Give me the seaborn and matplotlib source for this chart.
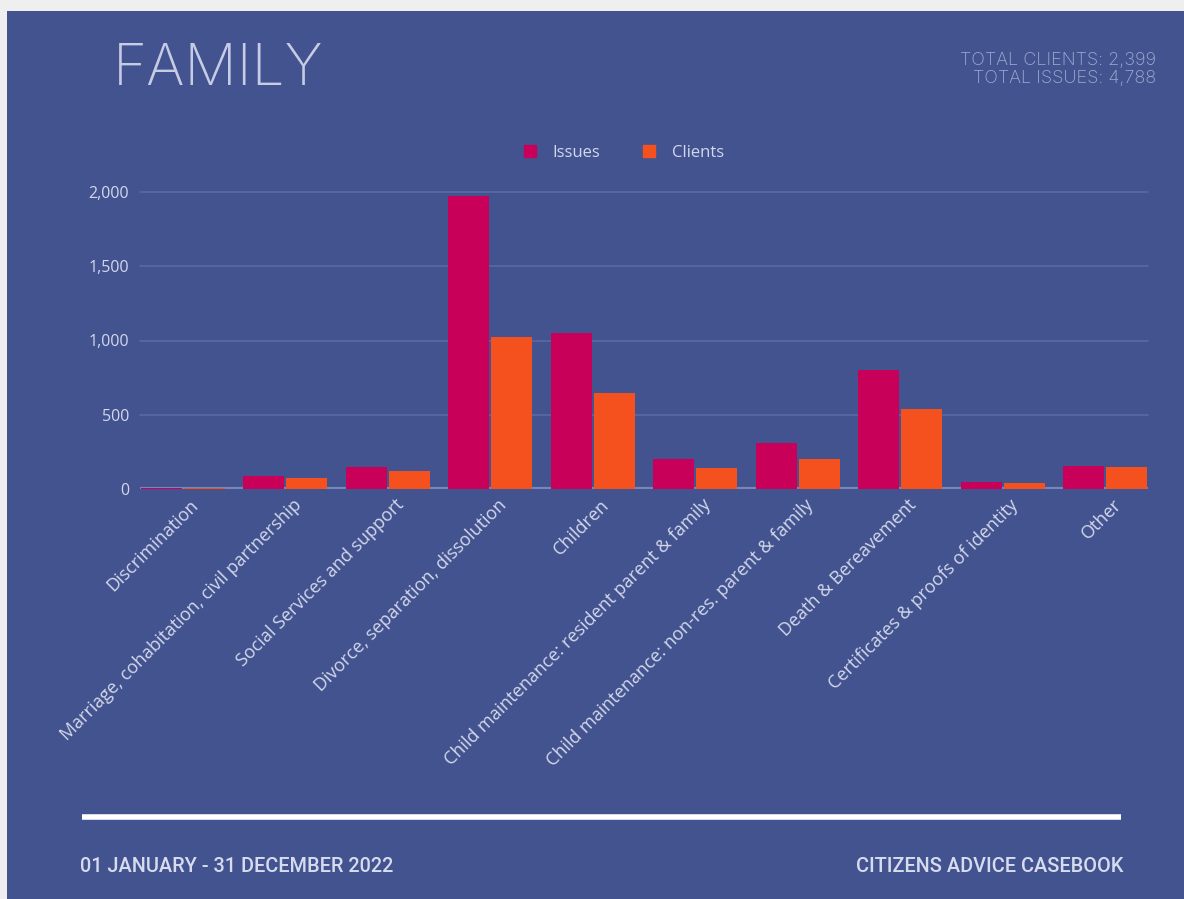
import matplotlib
matplotlib.use("Agg")
import matplotlib.pyplot as plt
import matplotlib.transforms as mtransforms
from matplotlib.patches import Rectangle
from matplotlib.lines import Line2D
import pandas as pd
import seaborn as sns

# Family advice topics, 01 Jan - 31 Dec 2022
categories = [
    "Discrimination",
    "Marriage, cohabitation, civil partnership",
    "Social Services and support",
    "Divorce, separation, dissolution",
    "Children",
    "Child maintenance: resident parent & family",
    "Child maintenance: non-res. parent & family",
    "Death & Bereavement",
    "Certificates & proofs of identity",
    "Other",
]
issues = [8, 88, 150, 1976, 1048, 200, 313, 801, 49, 155]
clients = [6, 76, 122, 1023, 649, 144, 200, 536, 43, 149]
series_names = ["Issues", "Clients"]
y_ticks = [0, 500, 1000, 1500, 2000]
y_tick_labels = ["0", "500", "1,000", "1,500", "2,000"]
total_clients = "2,399"
total_issues = "4,788"

W, H = 1184, 899
BG = "#43538F"
ISSUE_C = "#C8005A"
CLIENT_C = "#F4511E"
TEXT_C = "#D3D8EC"
SANS = ["Open Sans", "DejaVu Sans"]

df = pd.DataFrame({
    "category": categories * 2,
    "series": [series_names[0]] * len(categories) + [series_names[1]] * len(categories),
    "value": issues + clients,
})

sns.set_theme(style="white")
plt.rcParams["font.family"] = SANS

fig = plt.figure(figsize=(W / 100, H / 100), dpi=100, facecolor="#EFEFEF")

def fx(px):
    return px / W

def fy(py):
    return 1 - py / H

# blue card behind everything
fig.patches.append(Rectangle((fx(7), 0), 1 - fx(7), fy(11), transform=fig.transFigure,
                             facecolor=BG, edgecolor="none", zorder=-5))

ax = fig.add_axes([fx(140), fy(489), fx(1148) - fx(140), fy(192) - fy(489)])
ax.set_zorder(2)
ax.patch.set_alpha(0)

sns.barplot(data=df, x="category", y="value", hue="series", order=categories,
            hue_order=series_names, palette=[ISSUE_C, CLIENT_C], width=0.84,
            gap=0.04, saturation=1, linewidth=0, legend=False, ax=ax, zorder=3)

ax.set_xlim(-0.417, 9.417)
ax.set_ylim(0, 2000)
ax.set_yticks(y_ticks)
ax.set_yticklabels(y_tick_labels)
for y in y_ticks[1:]:
    ax.axhline(y, color="#5767A2", lw=1.3, zorder=1, clip_on=False)
ax.axhline(0, color="#7885BA", lw=3, zorder=2)

for s in ax.spines.values():
    s.set_visible(False)
ax.set_xlabel("")
ax.set_ylabel("")
ax.tick_params(axis="y", length=0, pad=8, labelsize=11.5, labelcolor=TEXT_C)
ax.tick_params(axis="x", length=0, pad=5, labelsize=13, labelcolor=TEXT_C)
ax.set_xticks(range(len(categories)))
ax.set_xticklabels(categories, rotation=45, ha="right", rotation_mode="anchor")
shift = mtransforms.ScaledTranslation(7 / 100, 0, fig.dpi_scale_trans)
for lab in ax.get_xticklabels():
    lab.set_transform(lab.get_transform() + shift)

# title and totals
fig.text(fx(113), fy(70), "FAMILY", fontsize=42, color="#C6CCE5", family=["Inter", "Open Sans"],
         fontweight="light", ha="left", va="center")
fig.text(fx(1156), fy(61), f"TOTAL CLIENTS: {total_clients}", fontsize=13,
         color="#A3ABD2", family=["Inter", "Open Sans"], fontweight="light",
         ha="right", va="center")
fig.text(fx(1156), fy(78), f"TOTAL ISSUES: {total_issues}", fontsize=13,
         color="#A3ABD2", family=["Inter", "Open Sans"], fontweight="light",
         ha="right", va="center")

# legend
handles = [Rectangle((0, 0), 1, 1, color=ISSUE_C), Rectangle((0, 0), 1, 1, color=CLIENT_C)]
fig.legend(handles, series_names, loc="center", bbox_to_anchor=(fx(624), fy(153)),
           ncol=2, frameon=False, fontsize=12, labelcolor=TEXT_C,
           handlelength=0.7, handleheight=0.7, handletextpad=1.0, columnspacing=2.6)

# footer rule and captions
fig.add_artist(Line2D([fx(82), fx(1121)], [fy(817), fy(817)], color="white", lw=4,
                      solid_capstyle="butt", transform=fig.transFigure))
foot_font = ["Roboto", "DejaVu Sans"]
fig.text(fx(80), fy(866), "01 JANUARY - 31 DECEMBER 2022", fontsize=14.3,
         color="#D6DBEE", family=foot_font, fontweight="medium", ha="left", va="center")
fig.text(fx(1123), fy(866), "CITIZENS ADVICE CASEBOOK", fontsize=14.3,
         color="#D6DBEE", family=foot_font, fontweight="medium", ha="right", va="center")

fig.savefig("out.png", dpi=100, facecolor=fig.get_facecolor())
